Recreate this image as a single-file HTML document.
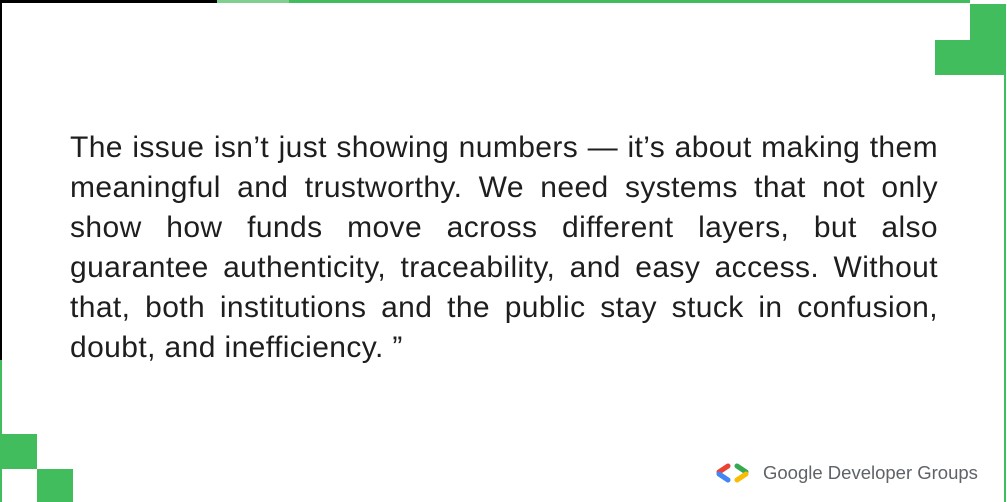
<!DOCTYPE html>
<html><head><meta charset="utf-8"><style>
html,body{margin:0;padding:0;}
body{width:1007px;height:502px;position:relative;overflow:hidden;background:#fff;font-family:"Liberation Sans",sans-serif;}
.g{position:absolute;background:#42bd5e;}
#quote{position:absolute;left:70px;top:128px;width:868px;font-size:30px;line-height:40px;color:#1e1e1e;letter-spacing:0.4px;}
#quote div{text-align:justify;text-align-last:justify;white-space:nowrap;}
#quote div.last{text-align-last:left;}
#brand{position:absolute;left:716px;top:460px;height:26px;display:flex;align-items:center;font-size:18.5px;color:#5f6368;}
</style></head><body>
<div style="position:absolute;left:0;top:0;width:217px;height:3px;background:#000"></div>
<div class="g" style="left:217px;top:0;width:72px;height:3px;background:#7fd08f"></div>
<div class="g" style="left:289px;top:0;width:681px;height:3px"></div>
<div style="position:absolute;left:0;top:0;width:2px;height:360px;background:#000"></div>
<div class="g" style="left:0;top:360px;width:2px;height:142px"></div>
<div class="g" style="left:1004px;top:75px;width:2px;height:427px"></div>
<div class="g" style="left:970px;top:4px;width:36px;height:71px"></div>
<div class="g" style="left:935px;top:40px;width:36px;height:35px"></div>
<div class="g" style="left:0;top:434px;width:37px;height:35px"></div>
<div class="g" style="left:37px;top:469px;width:36px;height:33px"></div>
<div id="quote">
<div>The issue isn’t just showing numbers — it’s about making them</div>
<div>meaningful and trustworthy. We need systems that not only</div>
<div>show how funds move across different layers, but also</div>
<div>guarantee authenticity, traceability, and easy access. Without</div>
<div>that, both institutions and the public stay stuck in confusion,</div>
<div class="last">doubt, and inefficiency. ”</div>
</div>
<div id="brand">
<svg width="40" height="20" viewBox="0 0 40 20">
<path d="M12 3 L3 9" stroke="#ea4335" stroke-width="5" stroke-linecap="round"/>
<path d="M3 11 L12 17" stroke="#4285f4" stroke-width="5" stroke-linecap="round"/>
<path d="M21 3 L30 9" stroke="#34a853" stroke-width="5" stroke-linecap="round"/>
<path d="M30 11 L21 17" stroke="#fbbc04" stroke-width="5" stroke-linecap="round"/>
</svg>
<span style="margin-left:7px">Google Developer Groups</span>
</div>
</body></html>
